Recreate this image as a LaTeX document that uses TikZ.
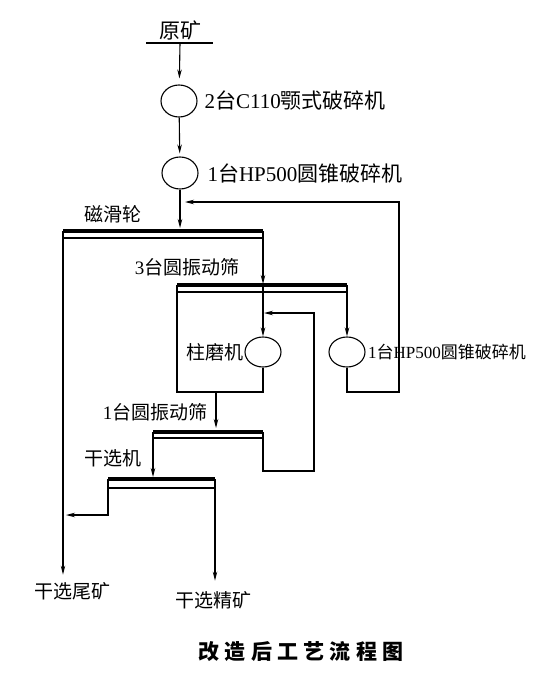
\documentclass[tikz,border=0pt]{standalone}
\usepackage{fontspec}
\setmainfont{Liberation Serif}
\newfontfamily\cjk{Noto Sans CJK SC}
\usetikzlibrary{arrows.meta,shapes.geometric}
\newcommand\ltn[1]{{\rmfamily #1}}
\tikzset{
    lbl/.style={font=\cjk\fontsize{19}{19}\selectfont, inner sep=0pt},
    biglbl/.style={lbl, font=\cjk\fontsize{21}{21}\selectfont},
    smalllbl/.style={lbl, font=\cjk\fontsize{17}{17}\selectfont},
    unit/.style={draw, ellipse, minimum width=36pt, minimum height=32pt, inner sep=0pt},
    flow/.style={-{Stealth[length=9pt,width=4.5pt]}},
    deck/.style={line width=3.2pt},
}
\begin{document}
\begin{tikzpicture}[x=1pt,y=-1pt,line width=1.1pt]
    \useasboundingbox (0,0) rectangle (541,674);
    % feed and primary crushing
    \node[biglbl] (ore) at (180,30) {原矿};
    \coordinate (orebar) at (180,43);
    \draw (146,43) -- (213,43);
    \node[unit] (jaw) at (179,101) {};
    \node[biglbl, anchor=west] (jawlbl) at (204,101) {\ltn{2}台\ltn{C110}颚式破碎机};
    \node[unit] (cone) at (180,173) {};
    \node[biglbl, anchor=west] (conelbl) at (207,173) {\ltn{1}台\ltn{HP500}圆锥破碎机};
    \draw[flow, shorten >=6pt] (orebar) -- (jaw);
    \draw[flow, shorten >=3pt] (jaw) -- (cone);
    % magnetic pulley
    \coordinate (mL) at (63,231);
    \coordinate (mR) at (263,231);
    \coordinate (mIn) at (180,231);
    \draw[deck] (mL) -- (mR);
    \draw (63,238) -- (263,238);
    \node[lbl] (maglbl) at (113,214) {磁滑轮};
    \draw[flow, shorten >=3pt] (cone) -- (mIn);
    % 3 screens
    \coordinate (sL) at (177,285);
    \coordinate (sR) at (347,285);
    \coordinate (sIn) at (263,285);
    \draw[deck] (sL) -- (sR);
    \draw (177,292) -- (347,292);
    \node[lbl] (scrlbl) at (187,267) {\ltn{3}台圆振动筛};
    \draw[flow, shorten >=1pt] (mR) -- (sIn);
    % column mill and second cone crusher
    \node[unit, minimum height=30pt] (mill) at (263,352) {};
    \node[lbl, anchor=east] (milllbl) at (mill.west) {柱磨机};
    \node[unit, minimum height=30pt] (cone2) at (347,352) {};
    \node[smalllbl, anchor=west] (cone2lbl) at ([xshift=2pt]cone2.east) {\ltn{1}台\ltn{HP500}圆锥破碎机};
    \draw[flow] (sIn) -- (mill);
    \draw[flow] (sR) -- (cone2);
    \coordinate (mIn2) at (185,202);
    \draw[flow] (cone2) |- (399,392) |- (mIn2);
    \coordinate (mix) at (216,392);
    \draw (mill.south) -- (mill.south |- mix) -- (sL |- mix) -- (sL);
    % single screen
    \coordinate (tL) at (153,432);
    \coordinate (tR) at (263,432);
    \coordinate (tIn) at (216,432);
    \draw[deck] (tL) -- (tR);
    \draw (153,438) -- (263,438);
    \node[lbl] (scr1lbl) at (155,412) {\ltn{1}台圆振动筛};
    \draw[flow, shorten >=4pt] (mix) -- (tIn);
    \coordinate (millfeed) at (264,313);
    \draw[flow] (tR) |- (314,471) |- (millfeed);
    % dry separator
    \coordinate (dL) at (108,479);
    \coordinate (dR) at (215,479);
    \coordinate (dIn) at (153,479);
    \draw[deck, line width=3.6pt] (dL) -- (dR);
    \draw (108,488) -- (215,488);
    \node[lbl] (drylbl) at (113,458) {干选机};
    \draw[flow, shorten >=2pt] (tL) -- (dIn);
    \coordinate (tailjoin) at (66,515);
    \draw[flow] (dL) |- (tailjoin);
    % products
    \node[lbl] (tail) at (72,591) {干选尾矿};
    \node[lbl] (conc) at (213,600) {干选精矿};
    \draw[flow, shorten >=7pt] (mL) -- (mL |- tail.north);
    \draw[flow, shorten >=10pt] (dR) -- (dR |- conc.north);
    \node[font=\cjk\bfseries\fontsize{21}{21}\selectfont\addfontfeature{LetterSpace=25}] (title) at (301,652) {改造后工艺流程图};
\end{tikzpicture}
\end{document}
